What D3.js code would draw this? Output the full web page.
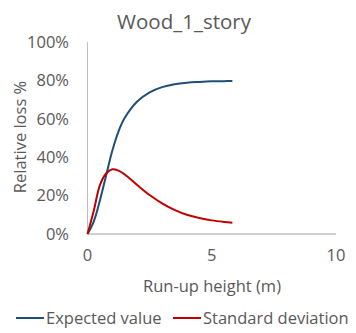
<!DOCTYPE html>
<html><head><meta charset="utf-8">
<script src="https://cdn.jsdelivr.net/npm/d3@7"></script>
<style>body{margin:0;background:#fff}svg{display:block}text{font-family:"Open Sans",sans-serif;fill:#595959}</style>
</head><body><svg id="c" width="356" height="333"></svg>
<script>
const runup = [0,0.25,0.5,0.75,1.0,1.25,1.5,2.0,2.5,3.0,3.5,4.0,4.5,5.0,5.5,5.83];
const expectedValue = [0,0.065,0.175,0.305,0.435,0.535,0.605,0.69,0.738,0.765,0.78,0.788,0.792,0.795,0.796,0.797];
const stdDeviation = [0,0.12,0.255,0.315,0.337,0.33,0.31,0.255,0.203,0.16,0.126,0.1,0.083,0.071,0.063,0.059];
const xTicks = [0,5,10];
const yTicks = [0,0.2,0.4,0.6,0.8,1.0];
const seriesNames = ["Expected value","Standard deviation"];
const colors = ["#1f4e79","#c00000"];

const svg = d3.select("#c");
const x = d3.scaleLinear().domain([0,10]).range([87.5,336]);
const y = d3.scaleLinear().domain([0,1]).range([234,42]);

svg.append("text").attr("x",184).attr("y",29).attr("text-anchor","middle").style("font-size","20.5px").text("Wood_1_story");

svg.append("line").attr("x1",x(0)).attr("x2",x(0)).attr("y1",y(1)).attr("y2",y(0)).attr("stroke","#bfbfbf").attr("stroke-width",1);
svg.append("line").attr("x1",x(0)).attr("x2",x(10)).attr("y1",y(0)).attr("y2",y(0)).attr("stroke","#bfbfbf").attr("stroke-width",1.5);

const fmt = d3.format(".0%");
svg.selectAll(".yt").data(yTicks).join("text").attr("x",69).attr("y",d=>y(d)).attr("dy","0.35em").attr("text-anchor","end").style("font-size","16.5px").text(d=>fmt(d));
svg.selectAll(".xt").data(xTicks).join("text").attr("x",d=>x(d)).attr("y",261).attr("text-anchor","middle").style("font-size","16.5px").text(d=>d);

svg.append("text").attr("transform","translate(26,137) rotate(-90)").attr("text-anchor","middle").style("font-size","16.5px").text("Relative loss %");
svg.append("text").attr("x",212).attr("y",292).attr("text-anchor","middle").style("font-size","16.5px").text("Run-up height (m)");

const line = d3.line().x(d=>x(d[0])).y(d=>y(d[1])).curve(d3.curveCatmullRom);
[expectedValue,stdDeviation].forEach((s,i)=>{
  svg.append("path").attr("d",line(runup.map((r,j)=>[r,s[j]]))).attr("fill","none").attr("stroke",colors[i]).attr("stroke-width",2);
});

const lg = [{x:16},{x:173}];
lg.forEach((l,i)=>{
  svg.append("line").attr("x1",l.x).attr("x2",l.x+28).attr("y1",318).attr("y2",318).attr("stroke",colors[i]).attr("stroke-width",2);
  svg.append("text").attr("x",l.x+30).attr("y",318).attr("dy","0.35em").style("font-size","16.5px").text(seriesNames[i]);
});
</script></body></html>
